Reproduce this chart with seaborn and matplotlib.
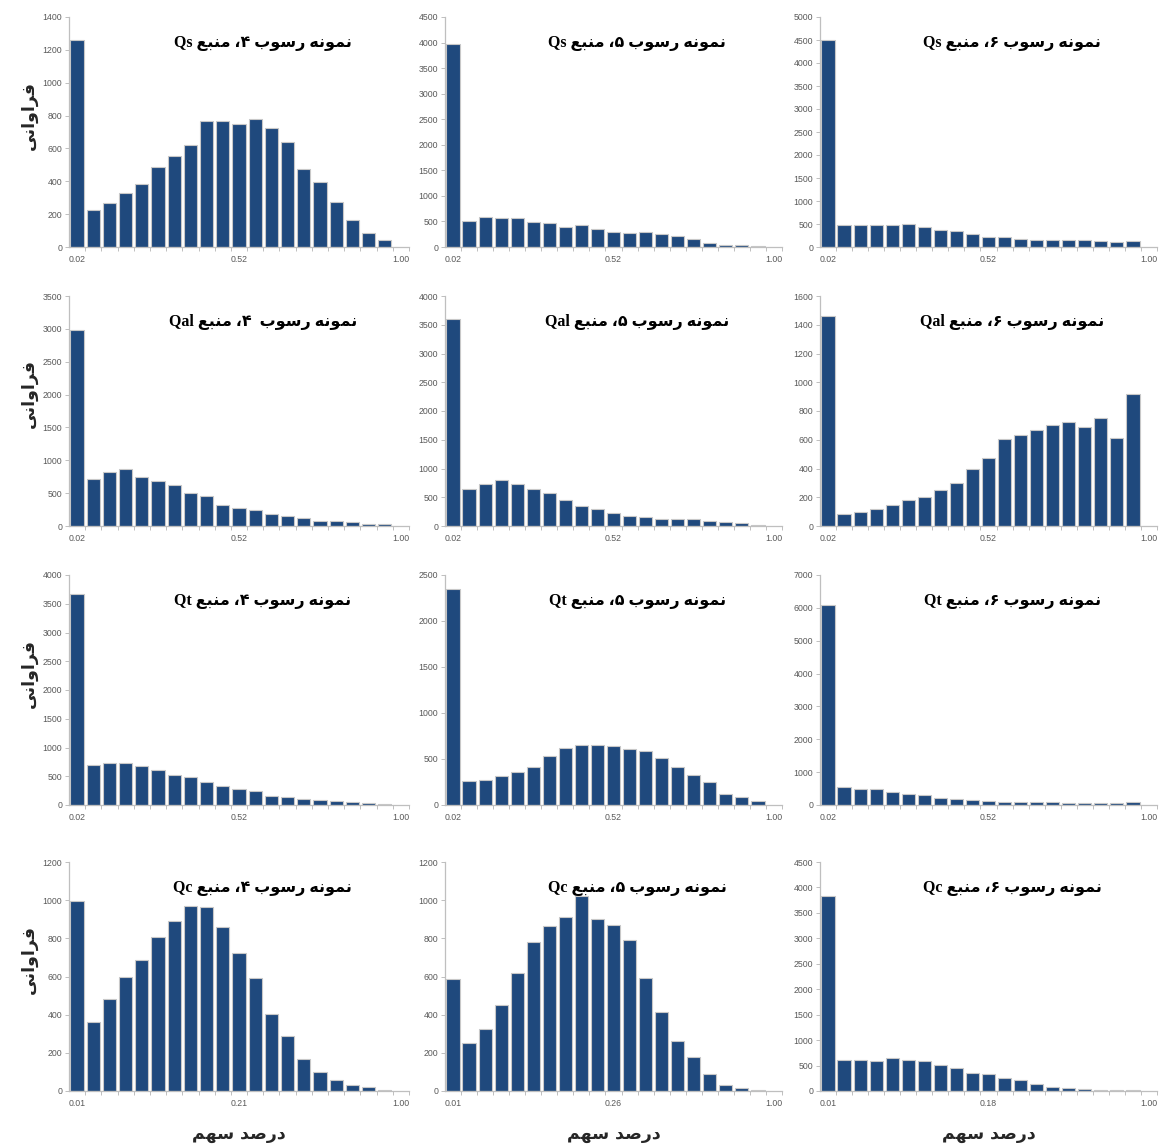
import matplotlib
matplotlib.use("Agg")
import matplotlib.pyplot as plt
from matplotlib.ticker import MultipleLocator, FixedLocator, NullFormatter
import pandas as pd
import seaborn as sns

# ---------------------------------------------------------------- data
sources = ["Qs", "Qal", "Qt", "Qc"]
samples = ["۴", "۵", "۶"]

qs_4 = [1260, 225, 265, 330, 385, 490, 555, 620, 770, 765, 750, 778, 725, 642, 475, 393, 272, 163, 85, 40]
qs_5 = [3980, 510, 590, 565, 570, 490, 470, 395, 435, 350, 300, 275, 285, 250, 215, 150, 75, 40, 30, 12]
qs_6 = [4490, 475, 480, 470, 470, 500, 435, 375, 350, 280, 225, 210, 180, 150, 160, 160, 150, 140, 115, 140]

qal_4 = [2990, 710, 820, 860, 750, 690, 630, 495, 460, 320, 272, 237, 190, 155, 125, 80, 70, 55, 30, 30]
qal_5 = [3600, 635, 722, 792, 733, 647, 567, 450, 340, 293, 231, 182, 165, 130, 130, 120, 95, 65, 45, 25]
qal_6 = [1458, 84, 95, 116, 143, 178, 202, 247, 299, 394, 473, 602, 635, 668, 705, 721, 686, 751, 614, 921]

qt_4 = [3678, 698, 735, 735, 676, 606, 530, 488, 394, 332, 280, 244, 158, 140, 110, 90, 65, 45, 30, 20]
qt_5 = [2345, 261, 275, 318, 361, 412, 530, 616, 648, 657, 643, 611, 588, 508, 412, 321, 246, 122, 84, 42]
qt_6 = [6085, 550, 500, 480, 408, 328, 308, 215, 175, 150, 130, 100, 85, 85, 80, 70, 70, 70, 50, 80]

qc_4 = [998, 363, 480, 596, 684, 806, 892, 972, 963, 857, 725, 590, 401, 290, 169, 98, 59, 30, 20, 5]
qc_5 = [585, 250, 327, 453, 617, 780, 863, 910, 1021, 901, 871, 790, 594, 414, 263, 180, 90, 30, 15, 5]
qc_6 = [3830, 614, 614, 590, 642, 614, 592, 512, 445, 354, 326, 261, 222, 138, 85, 55, 30, 20, 15, 10]

freq = [
    [qs_4, qs_5, qs_6],
    [qal_4, qal_5, qal_6],
    [qt_4, qt_5, qt_6],
    [qc_4, qc_5, qc_6],
]

# labelled bins (first, middle, last) of every histogram
bin_labels = [
    [["0.02", "0.52", "1.00"]] * 3,
    [["0.02", "0.52", "1.00"]] * 3,
    [["0.02", "0.52", "1.00"]] * 3,
    [["0.01", "0.21", "1.00"], ["0.01", "0.26", "1.00"], ["0.01", "0.18", "1.00"]],
]

y_max = [[1400, 4500, 5000], [3500, 4000, 1600], [4000, 2500, 7000], [1200, 1200, 4500]]
y_step = [[200, 500, 500], [500, 500, 200], [500, 500, 1000], [200, 200, 500]]

titles = [[f"نمونه رسوب {s}، منبع {src}" for s in samples] for src in sources]
titles[1][0] = "نمونه رسوب  ۴، منبع Qal"

y_label = "فراوانی"
x_label = "درصد سهم"

# ---------------------------------------------------------------- Persian shaping
# (isolated, final, initial, medial) presentation forms
FORMS = {
    "ا": ("\uFE8D", "\uFE8E", None, None),
    "ب": ("\uFE8F", "\uFE90", "\uFE91", "\uFE92"),
    "ت": ("\uFE95", "\uFE96", "\uFE97", "\uFE98"),
    "د": ("\uFEA9", "\uFEAA", None, None),
    "ر": ("\uFEAD", "\uFEAE", None, None),
    "س": ("\uFEB1", "\uFEB2", "\uFEB3", "\uFEB4"),
    "ص": ("\uFEB9", "\uFEBA", "\uFEBB", "\uFEBC"),
    "ع": ("\uFEC9", "\uFECA", "\uFECB", "\uFECC"),
    "ف": ("\uFED1", "\uFED2", "\uFED3", "\uFED4"),
    "م": ("\uFEE1", "\uFEE2", "\uFEE3", "\uFEE4"),
    "ن": ("\uFEE5", "\uFEE6", "\uFEE7", "\uFEE8"),
    "ه": ("\uFEE9", "\uFEEA", "\uFEEB", "\uFEEC"),
    "و": ("\uFEED", "\uFEEE", None, None),
    "ی": ("\uFEEF", "\uFEF0", "\uFEF3", "\uFEF4"),
}


def _dual(c):
    return c in FORMS and FORMS[c][2] is not None


def _shape_word(word):
    out = []
    for i, c in enumerate(word):
        if c not in FORMS:
            out.append(c)
            continue
        prev_join = i > 0 and _dual(word[i - 1])
        next_join = _dual(c) and i + 1 < len(word) and word[i + 1] in FORMS
        iso, fin, ini, med = FORMS[c]
        if prev_join and next_join:
            out.append(med)
        elif prev_join:
            out.append(fin)
        elif next_join:
            out.append(ini)
        else:
            out.append(iso)
    return "".join(out)


def rtl(text):
    words = []
    for w in text.split(" "):
        if w.isascii():
            words.append(w)
        else:
            words.append(_shape_word(w)[::-1])
    return " ".join(reversed(words))


# ---------------------------------------------------------------- style
sns.set_style("white")
plt.rcParams["font.family"] = ["Liberation Sans", "DejaVu Sans"]

BAR = "#1F497D"
EDGE = "#C8C8C8"
AXIS = "#BFBFBF"
TICKTXT = "#595959"

W, H = 1160, 1148
fig = plt.figure(figsize=(W / 100, H / 100), dpi=100)

col_px = [(69, 409), (445, 782), (820, 1157)]
row_px = [(17, 247), (296, 526), (575, 805), (862, 1091)]

n_bins = 21
for r in range(4):
    for c in range(3):
        l, rgt = col_px[c]
        t, b = row_px[r]
        ax = fig.add_axes([l / W, 1 - b / H, (rgt - l) / W, (b - t) / H])
        vals = freq[r][c]
        df = pd.DataFrame({"bin": list(range(len(vals))), "freq": vals})
        sns.barplot(data=df, x="bin", y="freq", order=list(range(n_bins)),
                    color=BAR, saturation=1, width=0.82,
                    edgecolor=EDGE, linewidth=0.8, ax=ax)
        ax.set_xlim(-0.5, n_bins - 0.5)
        ax.set_ylim(0, y_max[r][c])
        ax.yaxis.set_major_locator(MultipleLocator(y_step[r][c]))
        ax.set_xticks([0, 10, 20])
        ax.set_xticklabels(bin_labels[r][c])
        ax.xaxis.set_minor_locator(FixedLocator([k - 0.5 for k in range(1, n_bins + 1)]))
        ax.xaxis.set_minor_formatter(NullFormatter())
        ax.tick_params(axis="x", which="major", length=0, pad=6,
                       labelsize=6.3, labelcolor=TICKTXT)
        ax.tick_params(axis="x", which="minor", length=3, width=0.7,
                       color=AXIS, direction="out", bottom=True)
        ax.tick_params(axis="y", which="major", length=3, width=0.7,
                       color=AXIS, direction="out", left=True, pad=2,
                       labelsize=6.3, labelcolor=TICKTXT)
        ax.set_xlabel("")
        ax.set_ylabel("")
        for side in ("top", "right"):
            ax.spines[side].set_visible(False)
        for side in ("left", "bottom"):
            ax.spines[side].set_color(AXIS)
            ax.spines[side].set_linewidth(0.9)
        ax.text(0.57, 0.885, rtl(titles[r][c]), transform=ax.transAxes,
                ha="center", va="center", fontsize=11.5, fontweight="bold",
                family=["Liberation Serif", "DejaVu Sans"], color="black")

        if c == 0:
            fig.text(29 / W, 1 - ((t + b) / 2 - 17) / H, rtl(y_label),
                     rotation=90, ha="center", va="center",
                     fontsize=12.5, fontweight="bold", family=["DejaVu Sans"])
        if r == 3:
            fig.text((l + rgt) / 2 / W, 1 - 1134 / H, rtl(x_label),
                     ha="center", va="center", fontsize=12.5,
                     fontweight="bold", family=["DejaVu Sans"])

fig.savefig("out.png", dpi=100, facecolor="white")
